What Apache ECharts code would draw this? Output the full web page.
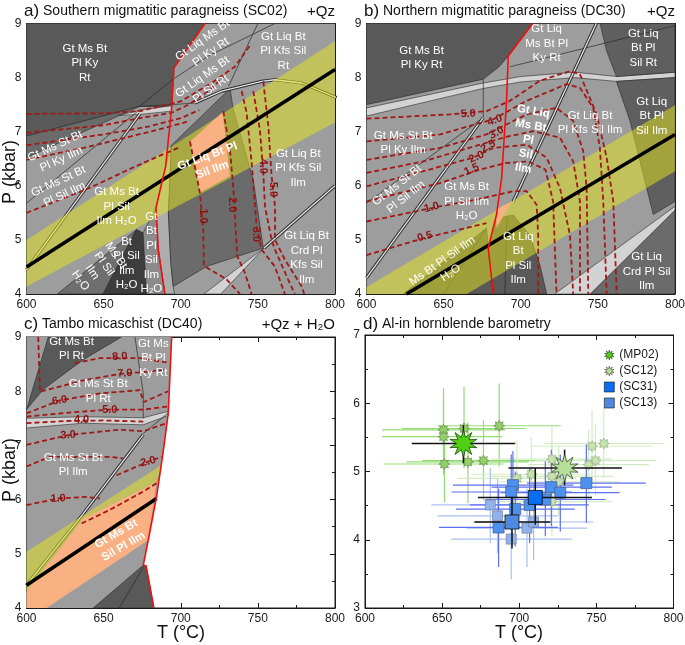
<!DOCTYPE html>
<html>
<head>
<meta charset="utf-8">
<script src="https://cdn.jsdelivr.net/npm/echarts/dist/echarts.min.js"></script>
<style>
html,body{margin:0;padding:0;background:#fff}
#main{width:685px;height:645px}
</style>
</head>
<body>
<div id="main"></div>
<script>
var FONT = '"Liberation Sans", Arial, Helvetica, sans-serif';

// ---- panel a : SC02 (T degC, P kbar) ----
var aBase = [[600,4],[800,4],[800,9],[600,9]];
var aKyField = [[600,9],[715.7,9],[695.6,8.18],[694.2,7.45],[673.5,7.47],[600,6.92]];
var aKyIlmStrip = [[600,6.92],[673.5,7.47],[600,6.52]];
var aLiqWedge = [[660,7.3],[673.5,7.4],[694,7.48],[694,7.38],[673.5,7.32]];
var aSolidusStrip = [[690.2,6.36],[694,6.75],[692,5.5],[693.5,4.6],[695.1,4.14],[696,4],[689.7,4],[685.4,4.82],[683.9,5.59]];
var aSilIlmField = [[694,6.75],[732,7.8],[734,7.41],[747,6.11],[753.5,4.85],[716.8,4.51],[695.1,4.14],[693.5,4.6],[692,5.5]];
var aMsH2OField = [[620,4],[671.3,5.19],[649.7,4]];
var aBtH2OField = [[649.7,4],[671.3,5.19],[675.6,5.13],[677.8,4]];
var aGtH2OField = [[675.6,5.13],[683.9,5.59],[685.4,4.82],[689.7,4],[677.8,4]];
var aCrdWedge = [[715,4],[726,4],[754,4.85]];
var aBand = [[600,5.0],[800,8.67],[800,7.17],[600,4.14]];
var aMelt = [[706,6.82],[727.1,7.36],[731.9,6.18],[712.4,5.87]];
var aSolidus = [[715.7,9],[695.6,8.18],[694,7.41],[690.2,6.36],[683.9,5.59],[685.4,4.82],[689.7,4]];
var aGeotherm = [[600,4.5],[800,8.15]];
var aLines = [
  [[761,9],[718,8.4],[694,7.95],[673.5,7.47]],
  [[750,9],[745,8.7],[731,7.84]],
  [[600,5.68],[673.5,7.41]],
  [[673.5,7.47],[694,7.5],[709,7.53]]
];
var aDoubles = [
  [[600,4.45],[673.5,7.33]],
  [[709,7.53],[726.5,7.75],[752.4,7.93],[761,7.96],[778.4,7.9],[801,7.63]],
  [[754,4.85],[800,6.0]]
];
var aIso = [
  [[706,6.82],[712.4,5.87],[714.6,5.19],[715,4.52],[729.7,4.27],[738.4,4]],
  [[727.6,7.38],[731.9,6.67],[734,5.99],[736.6,4.7],[741.6,4.39],[745.9,4]],
  [[739.5,7.75],[742.7,7.35],[746,6.42],[749.2,5.25],[752.4,4.82],[761,4.51],[767.5,4]],
  [[747,7.75],[751.3,7.04],[753.5,6.24],[754.6,5.62],[758.9,5],[761.1,4.82],[769.7,4.26],[774,4]],
  [[753.5,7.93],[756.8,7.1],[758.9,6.18],[761.1,5.62],[761.1,5],[767.6,4.63],[778.4,4.14],[780,4]],
  [[600,7.33],[650,7.34],[673.5,7.38],[700,7.56],[720,7.9],[735,8.2],[745,8.6]],
  [[600,6.98],[650,7.12],[673.5,7.25],[694,7.35],[705,7.5],[718,7.75],[729,8.05]],
  [[600,6.75],[650,6.95],[680,7.1],[700,7.25],[712,7.4]],
  [[600,6.48],[640,6.72],[680,7.0],[700,7.15],[706,7.2]],
  [[600,5.5],[640,5.95],[670,6.35],[690,6.6],[700,6.72]]
];
var aIsoText = [[714.6,5.44,'1.0',-90],[733,5.65,'2.0',-90],[749,5.1,'3.0',-90],[753.5,6.36,'4.0',-90],[760,5.93,'5.0',-90]];
var aNames = [
  [637.8,8.27,'Gt Ms Bt\nPl Ky\nRt',0],
  [716.8,8.58,'Gt Liq Ms Bt\nPl Ky Rt',35],
  [716.8,7.9,'Gt Liq Ms Bt\nPl Sil Rt',35],
  [766.5,8.49,'Gt Liq Bt\nPl Kfs Sil\nRt',0],
  [620.5,6.61,'Gt Ms St Bt\nPl Ky Ilm',25],
  [622.7,5.96,'Gt Ms St Bt\nPl Sil Ilm',25],
  [658.4,5.62,'Gt Ms Bt\nPl Sil\nIlm H₂O',0],
  [718.9,6.42,'Gt Liq Bt Pl\nSil Ilm',20,1],
  [776.2,6.33,'Gt Liq Bt\nPl Kfs Sil\nIlm',0],
  [781.6,4.67,'Gt Liq Bt\nCrd Pl\nKfs Sil\nIlm',0],
  [646.5,4.48,'Ms Bt\nPl Sil\nIlm\nH₂O',-55],
  [664.9,4.57,'Bt\nPl Sil\nIlm\nH₂O',0],
  [681,4.76,'Gt\nBt\nPl\nSil\nIlm\nH₂O',0]
];

// ---- panel b : DC30 ----
var bBase = [[600,4],[800,4],[800,9],[600,9]];
var bKyField = [[600,9],[707.7,9],[691.9,8.4],[686,8.2],[675.7,7.97],[600,7.5]];
var bSilStrip = [[600,7.44],[675.7,7.9],[700,8.02],[735,8.1],[762,8.02],[800,8.1],[800,8.0],[762,7.93],[735,8.0],[700,7.92],[675.7,7.8],[600,7.29]];
var bRtField = [[751.4,9],[800,9],[800,8.1],[762,8.02],[755.7,8.49]];
var bIlmField = [[762,7.93],[800,8.0],[800,5.71],[785.9,5.47],[777.3,6.45],[770.8,7.2]];
var bCrdField = [[745,4],[800,5.55],[800,4]];
var bCrdWedge = [[722,4],[745,4],[800,5.55],[800,5.62]];
var bLiqField = [[679,4.85],[684.3,5.4],[695.1,5.46],[705.9,5.09],[712.4,4.54],[716.8,4],[682.2,4]];
var bH2OField = [[623.8,4],[677.8,5.22],[680.5,4.4],[682.2,4]];
var bBand = [[600,4],[600,4.13],[800,7.49],[800,6.27],[665,4]];
var bMelt = [[683.9,5.56],[694,5.71],[684.3,5.22]];
var bSolidus = [[707.7,9],[691.9,8.4],[690.8,7.57],[687.6,6.14],[684.3,5.47],[678.9,4.85],[682.2,4]];
var bGeotherm = [[625.9,4],[800,6.95]];
var bLines = [
  [[600,5.68],[675.7,7.26]],
  [[675.7,7.97],[675.7,7.26]],
  [[693,8.2],[800,8.96]],
  [[691,5.45],[689.7,4]],
  [[650,4],[677.8,5.22]]
];
var bDoubles = [
  [[600,4.3],[675.7,7.26]],
  [[749,9],[695.1,5.71]]
];
var bIso = [
  [[600,4.72],[636.8,5.03],[677.8,5.31]],
  [[600,5.34],[647.6,5.62],[672,5.75],[695.1,5.9],[703.8,5.9],[710.3,5.65],[711.3,5.09],[711.3,4]],
  [[600,5.71],[647.6,6.05],[673.5,6.3],[690,6.42],[705,6.45],[716,6.3],[721,5.71],[723.2,4]],
  [[600,5.99],[636.8,6.27],[669.2,6.52],[682.2,6.7],[703.8,6.76],[716.8,6.52],[725.4,5.96],[731.9,5.09],[734,4]],
  [[600,6.24],[636.8,6.45],[673.5,6.76],[690,6.9],[708.1,7.01],[725.4,6.89],[734,6.45],[738.4,5.71],[738.4,4]],
  [[600,6.48],[647.6,6.7],[677.8,6.95],[703.8,7.32],[723.2,7.44],[734,7.2],[740.5,6.64],[742.7,5.96],[743.8,4]],
  [[600,6.82],[647.6,6.95],[682.2,7.23],[703.8,7.57],[729.7,7.88],[738.4,7.81],[747,7.44],[751.3,6.7],[753.5,5.71],[755.7,4]],
  [[600,7.24],[654,7.32],[677.8,7.38],[693,7.57],[712.4,7.94],[731.9,8.12],[738.4,8.06],[749.2,7.32],[755.7,6.52],[760,5.71],[762.2,4]]
];
var bIsoText = [[665.9,7.33,'5.0',3],[683.2,7.21,'4.0',20],[684.3,6.98,'3.0',30],[678.9,6.73,'2.5',30],[671.3,6.53,'2.0',25],[668.1,6.3,'1.5',25],[642.2,5.6,'1.0',15],[637.8,5.06,'0.5',15]];
var bNames = [
  [635.7,8.37,'Gt Ms Bt\nPl Ky Rt',0],
  [716.8,8.63,'Gt Liq\nMs Bt Pl\nKy Rt',0],
  [779.4,8.55,'Gt Liq\nBt Pl\nSil Rt',0],
  [784.9,7.29,'Gt Liq\nBt Pl\nSil Ilm',0],
  [623.8,6.79,'Gt Ms St Bt\nPl Ky Ilm',0],
  [622.7,5.9,'Gt Ms St Bt\nPl Sil Ilm',38],
  [664.9,5.71,'Gt Ms Bt\nPl Sil Ilm\nH₂O',0],
  [704.9,6.85,'Gt Liq\nMs Bt\nPl\nSil\nIlm',-10,1],
  [744.9,7.16,'Gt Liq Bt\nPl Kfs Sil Ilm',0],
  [698.4,4.66,'Gt Liq\nBt\nPl Sil\nIlm',0],
  [651.9,4.5,'Ms Bt Pl Sil Ilm\nH₂O',35],
  [781.6,4.41,'Gt Liq\nCrd Pl Sil\nIlm',0]
];

// ---- panel c : DC40 ----
var cBase = [[600,4],[682.6,4],[677.5,4.78],[675.7,4.79],[678.9,5.25],[684.3,6.05],[688.6,6.88],[691.9,7.59],[694.1,9],[600,9]];
var cRtField = [[614.1,9],[661.6,9],[636.8,8.58],[610.8,8.03],[600,7.66]];
var cSilStrip = [[600,7.5],[636.8,7.53],[675.7,7.51],[691.9,7.63],[691.9,7.55],[675.7,7.38],[636.8,7.41],[600,7.32]];
var cBand = [[600,5.04],[687.6,6.64],[684.3,6.33],[636.8,5.65],[600,4.3]];
var cMelt = [[600,4.3],[636.8,5.65],[684.3,6.33],[678.9,5.25],[613,4],[600,4]];
var cLowField = [[643.2,4],[675.7,4.79],[677.5,4.78],[682.6,4]];
var cSolidus = [[694.1,9],[691.9,7.59],[688.6,6.88],[684.3,6.05],[678.9,5.25],[675.7,4.79],[677.5,4.78],[682.6,4]];
var cGeotherm = [[600,4.42],[684.3,6.02]];
var cLines = [
  [[670.3,9],[675.7,7.96],[675.7,7.5]],
  [[675.7,7.22],[691.9,7.6]],
  [[660,4],[675.7,4.75]]
];
var cDoubles = [
  [[675.7,7.2],[636.8,5.74],[600,4.42]]
];
var cIso = [
  [[607.6,9],[608.7,7.99],[636.8,8.2],[660.5,8.32],[674.6,8.35],[690.8,8.4]],
  [[631.3,8.52],[647.6,8.61],[673.5,8.61],[690.8,8.53]],
  [[600,7.59],[621.6,7.83],[647.6,7.96],[673.5,8.02],[676,7.8],[691.9,8.0]],
  [[600,7.53],[625,7.6],[654,7.66],[675.7,7.66],[691.9,7.72]],
  [[600,7.41],[625,7.45],[650,7.46],[675.7,7.44]],
  [[600,7.01],[627,7.19],[660,7.29],[675.7,7.26],[690.8,7.41]],
  [[600,6.61],[615.1,6.79],[654,6.79],[662.5,6.76]],
  [[658.4,6.45],[678.9,6.7],[687.6,6.79]],
  [[600,5.9],[620.5,6.02],[638.8,6.05],[647.6,6.02]],
  [[635.7,5.56],[654,5.81],[675.7,6.15],[684.3,6.3]]
];
var cIsoText = [[660.5,8.64,'8.0',3],[663.8,8.33,'7.0',3],[621.6,7.83,'6.0',10],[654,7.66,'5.0',0],[635.7,7.47,'4.0',0],[627,7.19,'3.0',5],[678.9,6.7,'2.0',15],[620.5,6.02,'1.0',3]];
var cNames = [
  [629.2,8.78,'Gt Ms Bt\nPl Rt',0],
  [682.2,8.61,'Gt Ms\nBt Pl\nKy Rt',0],
  [646.5,8.0,'Gt Ms St Bt\nPl Rt',0],
  [630.3,6.64,'Gt Ms St Bt\nPl Ilm',0],
  [660.5,5.25,'Gt Ms Bt\nSil Pl Ilm',30,1]
];

// ---- panel d : Al-in hornblende (T, P, Tlo, Thi, Plo, Phi) ----
var dMP02 = [[663.8,5.41]];
var dMP02Err = [[630.3,697.4,5.12,5.68]];
var dSC12 = [[729.4,5.05]];
var dSC12Err = [[693,766.5,4.8,5.32]];
var dSC31 = [[710.4,4.62]];
var dSC31Err = [[673.2,747.2,4.22,5.05]];
var dSC13 = [[695.3,4.26]];
var dSC13Err = [[671,720.1,3.87,4.63]];
var dMP02pts = [[650.9,5.61],[650.9,5.51],[664.2,5.63],[687,5.67],[651.5,5.11],[666.7,5.14],[676.8,5.16]];
var dMP02ptsErr = [[611,691,5.02,6.22],[611,689,4.95,6.08],[624,704,5.05,6.24],[647,727,5.07,6.29],[612,690,4.55,5.67],[627,706,4.54,5.72],[637,716,4.58,5.75]];
var dSC12pts = [[721.2,5.18],[721.2,4.93],[698.5,4.9],[707.8,4.96],[725.5,4.85],[721.2,4.56],[747.2,5.37],[754.8,5.41],[749.4,5.16],[745,5.1]];
var dSC12ptsErr = [[682,760,4.65,5.7],[681,761,4.4,5.45],[660,737,4.35,5.45],[669,747,4.45,5.5],[686,765,4.35,5.38],[682,760,4.05,5.08],[708,786,4.85,5.9],[716,794,4.9,5.93],[710,789,4.65,5.7],[706,784,4.58,5.62]];
var dSC31pts = [[695.9,4.8],[694.8,4.7],[697.4,4.45],[706.7,4.51],[716.9,4.59],[720.8,4.77],[726.6,4.69],[743.5,4.83],[686.6,4.18]];
var dSC31ptsErr = [[657,735,4.25,5.3],[656,734,4.15,5.25],[659,736,3.9,5.0],[668,745,3.95,5.05],[678,756,4.05,5.15],[682,760,4.2,5.32],[688,765,4.12,5.25],[705,782,4.25,5.4],[648,725,3.6,4.75]];
var dSC13pts = [[681.2,4.51],[685.9,4.35],[694.8,4.01],[705,4.17],[709.3,4.26]];
var dSC13ptsErr = [[643,720,3.95,5.05],[647,725,3.8,4.9],[656,734,3.42,4.6],[666,744,3.6,4.75],[670,748,3.7,4.82]];
var legendNames = ['(MP02)','(SC12)','(SC31)','(SC13)'];

var xTicks = [600, 800, 50];
var pTicks = [4, 9, 1];
var dTicks = [3, 7, 1];

var series = [];

function poly(g, pts, fill, z, stroke) {
  series.push({
    type: 'custom', xAxisIndex: 2 * g, yAxisIndex: 2 * g, z: z || 1, silent: true, clip: true,
    data: [pts[0]],
    renderItem: function (params, api) {
      return {
        type: 'polygon',
        shape: {points: pts.map(function (p) { return api.coord(p); })},
        style: {fill: fill, stroke: stroke || 'none', lineWidth: 0.6}
      };
    }
  });
}
function line(g, pts, color, width, dash, z) {
  series.push({
    type: 'line', xAxisIndex: 2 * g, yAxisIndex: 2 * g, data: pts, showSymbol: false, symbol: 'none',
    silent: true, z: z || 4, lineStyle: {color: color, width: width, type: dash ? [5, 3] : 'solid'}
  });
}
function dbl(g, pts) {
  line(g, pts, '#2a2a2a', 3.2, false, 4);
  line(g, pts, '#e4e4e4', 1.3, false, 4);
}
function labels(g, list, color, size, z, bold) {
  series.push({
    type: 'custom', xAxisIndex: 2 * g, yAxisIndex: 2 * g, z: z || 8, silent: true, clip: false,
    data: list.map(function (l) { return [l[0], l[1]]; }),
    renderItem: function (params, api) {
      var l = list[params.dataIndex];
      var c = api.coord([l[0], l[1]]);
      return {
        type: 'text', x: c[0], y: c[1], rotation: (l[3] || 0) * Math.PI / 180,
        style: {
          text: l[2], fill: color, align: 'center', verticalAlign: 'middle',
          font: (l[4] || bold ? 'bold ' : '') + size + 'px ' + FONT, lineHeight: size + 3
        }
      };
    }
  });
}
function errBars(pts, errs, color, width, z) {
  series.push({
    type: 'custom', xAxisIndex: 6, yAxisIndex: 6, z: z, silent: true, clip: true,
    data: pts.map(function (p, i) { return [p[0], p[1]].concat(errs[i]); }),
    renderItem: function (params, api) {
      var l = api.coord([api.value(2), api.value(1)]), r = api.coord([api.value(3), api.value(1)]);
      var b = api.coord([api.value(0), api.value(4)]), t = api.coord([api.value(0), api.value(5)]);
      return {type: 'group', children: [
        {type: 'line', shape: {x1: l[0], y1: l[1], x2: r[0], y2: r[1]}, style: {stroke: color, lineWidth: width}},
        {type: 'line', shape: {x1: b[0], y1: b[1], x2: t[0], y2: t[1]}, style: {stroke: color, lineWidth: width}}
      ]};
    }
  });
}
function starPath(n, inner) {
  var s = 'path://';
  for (var i = 0; i < 2 * n; i++) {
    var r = i % 2 ? inner : 1, a = Math.PI * i / n - Math.PI / 2;
    s += (i ? 'L' : 'M') + (50 + 50 * r * Math.cos(a)).toFixed(1) + ' ' + (50 + 50 * r * Math.sin(a)).toFixed(1) + ' ';
  }
  return s + 'Z';
}
var STAR = starPath(10, 0.48), SMALLSTAR = starPath(8, 0.6);
var dStyle = {
  '(MP02)': {color: '#4fd015', borderColor: '#1d4a08'},
  '(SC12)': {color: '#b6df98', borderColor: '#44503c'},
  '(SC31)': {color: '#0a6ef5', borderColor: '#111'},
  '(SC13)': {color: '#4f8ae0', borderColor: '#111'}
};
function points(name, pts, symbol, size, fill, border, z) {
  series.push({
    type: 'scatter', name: name, xAxisIndex: 6, yAxisIndex: 6, data: pts, symbol: symbol, symbolSize: size,
    z: z, silent: true, itemStyle: {color: fill, borderColor: border, borderWidth: 0.8, opacity: 1}
  });
}

// colours
var MED = '#9d9d9d', DARK = '#595959', DARK2 = '#6b6b6b', DARKEST = '#3d3d3d', LIGHT = '#d3d3d3';
var YEL = 'rgba(232,232,30,0.5)', ORANGE = '#f9b083', ISO = '#a01818', RED = '#f01010';
var EDGE = '#2a2a2a';

// panel a
poly(0, aBase, MED, 1);
poly(0, aKyField, DARK, 1, EDGE);
poly(0, aKyIlmStrip, DARK2, 1, EDGE);
poly(0, aLiqWedge, LIGHT, 1, EDGE);
poly(0, aSolidusStrip, '#adadad', 1, EDGE);
poly(0, aSilIlmField, DARK2, 1, EDGE);
poly(0, aMsH2OField, '#6e6e6e', 1, EDGE);
poly(0, aBtH2OField, DARKEST, 1, EDGE);
poly(0, aGtH2OField, '#8b8b8b', 1, EDGE);
poly(0, aCrdWedge, LIGHT, 1, EDGE);
aLines.forEach(function (l) { line(0, l, EDGE, 0.7, false, 3); });
aDoubles.forEach(function (l) { dbl(0, l); });
poly(0, aBand, YEL, 5);
poly(0, aMelt, ORANGE, 5);
aIso.forEach(function (l) { line(0, l, ISO, 1.8, true, 6); });
line(0, aGeotherm, '#000', 3.5, false, 7);
line(0, aSolidus, RED, 1.6, false, 7);
labels(0, aIsoText, '#8b1212', 11, 8, true);
labels(0, aNames, '#fff', 11.5, 9);

// panel b
poly(1, bBase, MED, 1);
poly(1, bKyField, DARK, 1, EDGE);
poly(1, bSilStrip, LIGHT, 1, EDGE);
poly(1, bRtField, '#5f5f5f', 1, EDGE);
poly(1, bIlmField, '#5f5f5f', 1, EDGE);
poly(1, bCrdField, DARK2, 1, EDGE);
poly(1, bCrdWedge, LIGHT, 1, EDGE);
poly(1, bLiqField, DARK, 1, EDGE);
poly(1, bH2OField, DARK, 1, EDGE);
bLines.forEach(function (l) { line(1, l, EDGE, 0.7, false, 3); });
bDoubles.forEach(function (l) { dbl(1, l); });
poly(1, bBand, YEL, 5);
poly(1, bMelt, ORANGE, 5);
bIso.forEach(function (l) { line(1, l, ISO, 1.8, true, 6); });
line(1, bGeotherm, '#000', 3.5, false, 7);
line(1, bSolidus, RED, 1.6, false, 7);
labels(1, bIsoText, '#8b1212', 11, 8, true);
labels(1, bNames, '#fff', 11.5, 9);

// panel c
poly(2, cBase, MED, 1);
poly(2, cRtField, DARK, 1, EDGE);
poly(2, cSilStrip, LIGHT, 1, EDGE);
poly(2, cLowField, DARK, 1, EDGE);
cLines.forEach(function (l) { line(2, l, EDGE, 0.7, false, 3); });
cDoubles.forEach(function (l) { dbl(2, l); });
poly(2, cBand, YEL, 5);
poly(2, cMelt, ORANGE, 5);
cIso.forEach(function (l) { line(2, l, ISO, 1.8, true, 6); });
line(2, cGeotherm, '#000', 3.5, false, 7);
line(2, cSolidus, RED, 1.6, false, 7);
labels(2, cIsoText, '#8b1212', 11, 8, true);
labels(2, cNames, '#fff', 11.5, 9);

// panel d
errBars(dMP02pts, dMP02ptsErr, '#93dc72', 1.2, 2);
errBars(dSC12pts, dSC12ptsErr, '#d3ecc3', 1.2, 2);
errBars(dSC13pts, dSC13ptsErr, '#a9bff0', 1.2, 2);
errBars(dSC31pts, dSC31ptsErr, '#5b6ff0', 1.2, 2);
points('MP02 analyses', dMP02pts, SMALLSTAR, 11, '#93d066', '#6b8f55', 3);
points('SC12 analyses', dSC12pts, SMALLSTAR, 11, '#c6e2ad', '#9bb38b', 3);
points('SC13 analyses', dSC13pts, 'rect', 10, '#8fb2ea', '#7a8aa8', 3);
points('SC31 analyses', dSC31pts, 'rect', 11, '#4c90f0', '#4a6490', 3);
errBars(dMP02, dMP02Err, '#111', 1.5, 4);
errBars(dSC12, dSC12Err, '#111', 1.5, 4);
errBars(dSC31, dSC31Err, '#111', 1.5, 4);
errBars(dSC13, dSC13Err, '#111', 1.5, 4);
points(legendNames[0], dMP02, STAR, 27, dStyle['(MP02)'].color, dStyle['(MP02)'].borderColor, 5);
points(legendNames[1], dSC12, STAR, 27, dStyle['(SC12)'].color, dStyle['(SC12)'].borderColor, 5);
points(legendNames[2], dSC31, 'rect', 14, dStyle['(SC31)'].color, dStyle['(SC31)'].borderColor, 5);
points(legendNames[3], dSC13, 'rect', 14, dStyle['(SC13)'].color, dStyle['(SC13)'].borderColor, 5);

function axis(g, pos, t, labelsOn) {
  return {
    type: 'value', gridIndex: g, position: pos, min: t[0], max: t[1], interval: t[2],
    axisLine: {show: true, onZero: false, lineStyle: {color: '#1a1a1a', width: 1}},
    axisTick: {show: true, inside: true, length: 5, lineStyle: {color: '#1a1a1a'}},
    minorTick: {show: true, splitNumber: 2, length: 3, lineStyle: {color: '#1a1a1a'}},
    splitLine: {show: false}, minorSplitLine: {show: false},
    axisLabel: {show: labelsOn, fontSize: 12, color: '#1a1a1a', fontFamily: FONT, margin: 5,
      showMinLabel: true, showMaxLabel: true}
  };
}
var grids = [
  {left: 26.5, top: 23.5, width: 308.5, height: 270.5},
  {left: 366.5, top: 23.5, width: 308.5, height: 270.5},
  {left: 26.5, top: 337, width: 308.5, height: 271},
  {left: 365, top: 335, width: 308.5, height: 273}
];
var xAxes = [], yAxes = [];
grids.forEach(function (gr, g) {
  gr.show = true; gr.borderColor = '#1a1a1a'; gr.borderWidth = 1; gr.backgroundColor = '#fff';
  gr.containLabel = false; gr.outerBoundsMode = 'none';
  var yt = g === 3 ? dTicks : pTicks;
  xAxes.push(axis(g, 'bottom', xTicks, true), axis(g, 'top', xTicks, false));
  yAxes.push(axis(g, 'left', yt, true), axis(g, 'right', yt, false));
});

function title(x, y, letter, text) {
  return {type: 'text', left: x, top: y, z: 100, style: {
    text: '{l|' + letter + '} ' + text, fill: '#111', font: '14px ' + FONT,
    rich: {l: {fontSize: 17, fontFamily: FONT, fill: '#111'}}
  }};
}
function tag(right, y, text) {
  return {type: 'text', right: right, top: y, z: 100, style: {text: text, fill: '#111', font: '15px ' + FONT}};
}
function axisName(x, y, text, rot) {
  return {type: 'text', x: x, y: y, rotation: rot, z: 100,
    style: {text: text, fill: '#111', font: '18px ' + FONT, align: 'center', verticalAlign: 'middle'}};
}
var graphics = [
  title(24, 3, 'a)', 'Southern migmatitic paragneiss (SC02)'),
  tag(350, 4, '+Qz'),
  title(364, 3, 'b)', 'Northern migmatitic paragneiss (DC30)'),
  tag(10, 4, '+Qz'),
  title(24, 316, 'c)', 'Tambo micaschist (DC40)'),
  tag(350, 317, '+Qz + H₂O'),
  title(363, 316, 'd)', 'Al-in hornblende barometry'),
  axisName(10, 172, 'P (kbar)', Math.PI / 2),
  axisName(10, 470, 'P (kbar)', Math.PI / 2),
  axisName(181, 633, 'T (°C)', 0),
  axisName(519, 633, 'T (°C)', 0)
];

var chart = echarts.init(document.getElementById('main'));
chart.setOption({
  animation: false,
  backgroundColor: '#fff',
  grid: grids,
  xAxis: xAxes,
  yAxis: yAxes,
  legend: {
    data: legendNames.map(function (n) {
      return {name: n, itemStyle: {color: dStyle[n].color, borderColor: dStyle[n].borderColor, borderWidth: 0.6}};
    }),
    orient: 'vertical', left: 599, top: 344, itemWidth: 10, itemHeight: 10,
    itemGap: 4, selectedMode: false, textStyle: {fontSize: 12, fontFamily: FONT, color: '#1a1a1a'}
  },
  graphic: graphics,
  series: series
});
</script>
</body>
</html>
